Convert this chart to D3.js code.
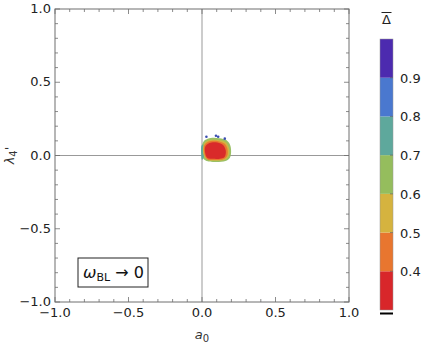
<!DOCTYPE html>
<html><head><meta charset="utf-8">
<script src="https://cdn.jsdelivr.net/npm/d3@7"></script>
<style>body{margin:0;background:#fff}svg{display:block;font-family:"DejaVu Sans",sans-serif}</style>
</head><body><svg id="c" width="427" height="344"></svg>
<script>
const xTicks=[-1,-0.5,0,0.5,1];
const yTicks=[-1,-0.5,0,0.5,1];
const cbLevels=[0.3,0.4,0.5,0.6,0.7,0.8,0.9,1.0];
const cbTicks=[0.4,0.5,0.6,0.7,0.8,0.9];
const cbColors=["#d8262a","#e8762f","#d5b33f","#95bd5d","#5ea89c","#4a78cf","#4c2aaf"];
// contour regions (a0, lambda4') with band level
const regionLevel=[0.6,0.7,0.5,0.4,0.3];
const regionGreen=[[0.0,0.07],[0.02,0.105],[0.06,0.12],[0.12,0.118],[0.165,0.105],[0.19,0.075],[0.198,0.03],[0.19,-0.015],[0.16,-0.038],[0.10,-0.045],[0.04,-0.04],[0.008,-0.02],[-0.004,0.02]];
const regionTeal=[[-0.002,0.07],[0.01,0.075],[0.016,0.03],[0.012,-0.01],[0.0,-0.03],[-0.006,0.02]];
const regionYellow=[[0.012,0.075],[0.04,0.102],[0.11,0.106],[0.16,0.092],[0.182,0.055],[0.185,0.005],[0.16,-0.028],[0.10,-0.036],[0.04,-0.03],[0.012,0.0]];
const regionOrange=[[0.016,0.07],[0.045,0.095],[0.11,0.098],[0.155,0.08],[0.174,0.04],[0.17,-0.005],[0.145,-0.025],[0.085,-0.03],[0.035,-0.025],[0.016,0.01]];
const regionRed=[[0.022,0.06],[0.05,0.085],[0.105,0.088],[0.145,0.07],[0.162,0.03],[0.155,-0.008],[0.13,-0.02],[0.08,-0.023],[0.035,-0.015],[0.022,0.015]];
const dotsBlue=[[0.03,0.128],[0.095,0.135],[0.11,0.128],[0.155,0.115]];

const svg=d3.select("#c");
const x=d3.scaleLinear().domain([-1,1]).range([55,349]);
const y=d3.scaleLinear().domain([-1,1]).range([302,9]);
const gray="#6e6e6e";
const color=v=>cbColors[Math.min(6,Math.floor((v-0.3)/0.1+1e-6))];

// zero lines
svg.append("line").attr("x1",x(0)).attr("x2",x(0)).attr("y1",y(1)).attr("y2",y(-1)).attr("stroke","#999").attr("stroke-width",1);
svg.append("line").attr("x1",x(-1)).attr("x2",x(1)).attr("y1",y(0)).attr("y2",y(0)).attr("stroke","#999").attr("stroke-width",1);

// regions
const line=d3.line().x(d=>x(d[0])).y(d=>y(d[1])).curve(d3.curveCatmullRomClosed);
const regions=[regionGreen,regionTeal,regionYellow,regionOrange,regionRed];
regions.forEach((r,i)=>{
  svg.append("path").attr("d",line(r)).attr("fill",color(regionLevel[i]+0.05)).attr("opacity",0.95);
});
svg.selectAll("circle.d").data(dotsBlue).join("circle").attr("cx",d=>x(d[0])).attr("cy",d=>y(d[1])).attr("r",1.3).attr("fill","#3b4fb0");

// frame
svg.append("rect").attr("x",x(-1)).attr("y",y(1)).attr("width",x(1)-x(-1)).attr("height",y(-1)-y(1)).attr("fill","none").attr("stroke",gray).attr("stroke-width",1);

// ticks
const minor=d3.range(-1,1.0001,0.1);
const ax=svg.append("g").attr("stroke",gray).attr("stroke-width",0.8);
minor.forEach(v=>{
  const major=xTicks.some(t=>Math.abs(t-v)<1e-6);
  const L=major?5:3;
  ax.append("line").attr("x1",x(v)).attr("x2",x(v)).attr("y1",y(-1)).attr("y2",y(-1)-L);
  ax.append("line").attr("x1",x(v)).attr("x2",x(v)).attr("y1",y(1)).attr("y2",y(1)+L);
  ax.append("line").attr("y1",y(v)).attr("y2",y(v)).attr("x1",x(-1)).attr("x2",x(-1)+L);
  ax.append("line").attr("y1",y(v)).attr("y2",y(v)).attr("x1",x(1)).attr("x2",x(1)-L);
});
const fmt=v=>(v<0?"\u2212":"")+Math.abs(v).toFixed(1);
svg.selectAll("text.xt").data(xTicks).join("text").attr("x",d=>x(d)).attr("y",y(-1)+15).attr("text-anchor","middle").attr("font-size",13).attr("fill","#222").text(fmt);
svg.selectAll("text.yt").data(yTicks).join("text").attr("x",x(-1)-4).attr("y",d=>y(d)+4).attr("text-anchor","end").attr("font-size",13).attr("fill","#222").text(fmt);

// axis labels
const xl=svg.append("text").attr("x",x(0)).attr("y",339).attr("text-anchor","middle").attr("font-size",13).attr("fill","#333");
xl.append("tspan").attr("font-style","italic").text("a");
xl.append("tspan").attr("font-size",10).attr("dy",3).text("0");
const yl=svg.append("text").attr("transform",`translate(14,${y(0)}) rotate(-90)`).attr("text-anchor","middle").attr("font-size",13).attr("fill","#333");
yl.append("tspan").attr("font-style","italic").text("\u03bb");
yl.append("tspan").attr("font-size",10).attr("dy",3).text("4");
yl.append("tspan").attr("dy",-3).text("'");

// legend box
svg.append("rect").attr("x",78).attr("y",258).attr("width",70).attr("height",29).attr("fill","#fff").attr("stroke","#222").attr("stroke-width",1);
const lt=svg.append("text").attr("x",83).attr("y",278).attr("font-size",16).attr("fill","#111");
lt.append("tspan").attr("font-style","italic").text("\u03c9");
lt.append("tspan").attr("font-size",11).attr("dy",3).text("BL");
lt.append("tspan").attr("dy",-3).text(" \u2192 0");

// colorbar
const cy=d3.scaleLinear().domain([0.3,1.0]).range([310,39]);
const cbx=380,cbw=13;
svg.selectAll("rect.cb").data(d3.range(7)).join("rect").attr("x",cbx).attr("width",cbw)
  .attr("y",i=>cy(cbLevels[i+1])).attr("height",i=>cy(cbLevels[i])-cy(cbLevels[i+1])).attr("fill",i=>cbColors[i]);
svg.append("rect").attr("x",cbx).attr("y",cy(1)).attr("width",cbw).attr("height",cy(0.3)-cy(1)).attr("fill","none").attr("stroke","#999").attr("stroke-width",0.5);
svg.selectAll("line.cbt").data(cbTicks).join("line").attr("x1",cbx+cbw).attr("x2",cbx+cbw-3).attr("y1",d=>cy(d)).attr("y2",d=>cy(d)).attr("stroke","#555").attr("stroke-width",0.6);
svg.selectAll("text.cbt").data(cbTicks).join("text").attr("x",400).attr("y",d=>cy(d)+5).attr("font-size",13).attr("fill","#222").text(d=>d.toFixed(1));
svg.append("line").attr("x1",cbx).attr("x2",cbx+cbw).attr("y1",313.5).attr("y2",313.5).attr("stroke","#000").attr("stroke-width",2);
svg.append("text").attr("x",cbx+cbw/2).attr("y",24).attr("text-anchor","middle").attr("font-size",13).attr("fill","#222").text("\u0394");
svg.append("line").attr("x1",cbx+1.5).attr("x2",cbx+cbw-1.5).attr("y1",12.5).attr("y2",12.5).attr("stroke","#222").attr("stroke-width",1);
</script></body></html>
